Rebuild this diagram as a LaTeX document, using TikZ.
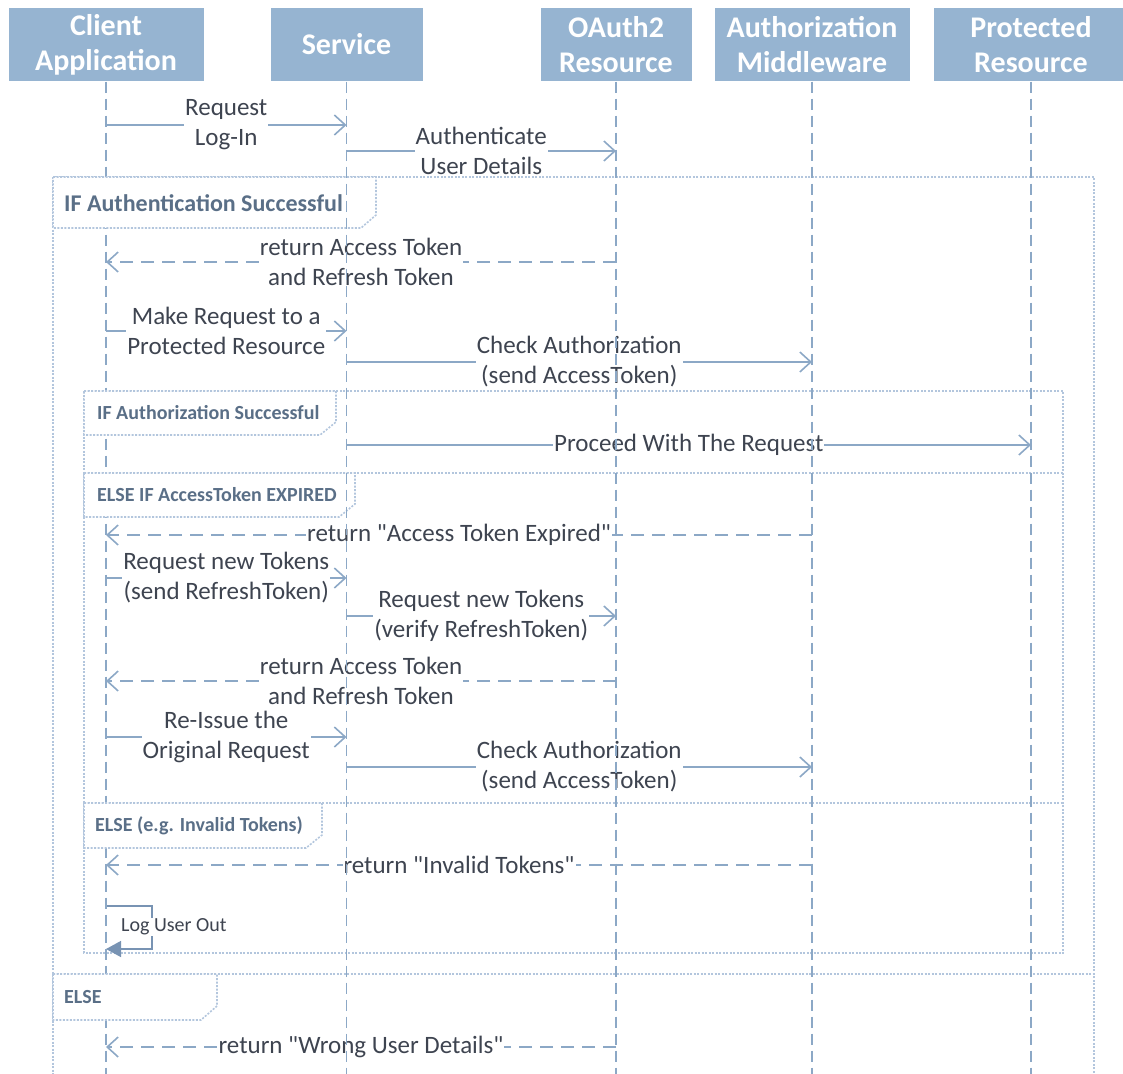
\documentclass[tikz,border=0pt]{standalone}
\usepackage{fontspec}
\setmainfont{Carlito}[Ligatures=TeXOff]
\usetikzlibrary{arrows.meta}
\definecolor{hdr}{HTML}{96B4D1}
\definecolor{ln}{HTML}{8CA8C6}
\definecolor{selfln}{HTML}{7893B3}
\definecolor{txt}{HTML}{3E4450}
\definecolor{frm}{HTML}{B3C6DD}
\definecolor{tabtxt}{HTML}{5A6F87}
\begin{document}
\begin{tikzpicture}[x=1pt,y=-1pt,
  actor/.style={fill=hdr, draw=white, line width=1pt, minimum height=73pt,
    text=white, font=\fontsize{30}{35}\selectfont\bfseries, align=center, inner sep=0pt},
  life/.style={ln, line width=1.8pt, dash pattern=on 11pt off 6pt},
  call/.style={ln, line width=1.6pt,
    -{Straight Barb[length=11pt,width=20pt,line width=1.6pt]}},
  reply/.style={call, dash pattern=on 13pt off 8pt},
  lbl/.style={fill=white, text=txt, font=\fontsize{25}{30}\selectfont,
    align=center, inner sep=1pt},
  frame/.style={frm, line width=1.6pt, dash pattern=on 2pt off 1.5pt},
  tabshape/.style={frame, fill=white},
  tabbig/.style={anchor=west, text=tabtxt, font=\fontsize{24}{28}\selectfont\bfseries, inner sep=0pt},
  tabsmall/.style={anchor=west, text=tabtxt, font=\fontsize{20}{24}\selectfont\bfseries, inner sep=0pt},
  selfmsg/.style={selfln, line width=1.4pt,
    -{Triangle[length=15pt,width=16pt]}},
  selflbl/.style={fill=white, text=txt, font=\fontsize{20}{24}\selectfont, inner sep=1pt}
]
\useasboundingbox (0,0) rectangle (1123,1073);
\clip (0,0) rectangle (1123,1073);

% combined fragments
\draw[frame] (53,177) rectangle (1094,1100);
\draw[frame] (53,974) -- (1094,974);
\draw[frame] (84,391) rectangle (1063,953);
\draw[frame] (84,473) -- (1063,473);
\draw[frame] (84,803) -- (1063,803);

% participants
\node[actor, minimum width=196pt] (cl) at (106,44.5) {Client\\Application};
\node[actor, minimum width=153pt] (sv) at (346.5,44.5) {Service};
\node[actor, minimum width=152pt] (oa) at (616,44.5) {OAuth2\\Resource};
\node[actor, minimum width=196pt] (mw) at (812,44.5) {Authorization\\Middleware};
\node[actor, minimum width=196pt] (pr) at (1031,44.5) {Protected\\Resource};

% messages
\draw[call] (cl |- 0,125) -- node[lbl] {Request\\Log-In} (sv |- 0,125);
\draw[call] (sv |- 0,151) -- node[lbl] {Authenticate\\User Details} (oa |- 0,151);
\draw[reply] (oa |- 0,262) -- node[lbl] {return Access Token\\and Refresh Token} (cl |- 0,262);
\draw[call] (cl |- 0,331) -- node[lbl] {Make Request to a\\Protected Resource} (sv |- 0,331);
\draw[call] (sv |- 0,362) -- node[lbl] {Check Authorization\\(send AccessToken)} (mw |- 0,362);
\draw[call] (sv |- 0,445) -- node[lbl] {Proceed With The Request} (pr |- 0,445);
\draw[reply] (mw |- 0,535) -- node[lbl] {return "Access Token Expired"} (cl |- 0,535);
\draw[call] (cl |- 0,578) -- node[lbl] {Request new Tokens\\(send RefreshToken)} (sv |- 0,578);
\draw[call] (sv |- 0,616) -- node[lbl] {Request new Tokens\\(verify RefreshToken)} (oa |- 0,616);
\draw[reply] (oa |- 0,681) -- node[lbl] {return Access Token\\and Refresh Token} (cl |- 0,681);
\draw[call] (cl |- 0,737) -- node[lbl] {Re-Issue the\\Original Request} (sv |- 0,737);
\draw[call] (sv |- 0,767) -- node[lbl] {Check Authorization\\(send AccessToken)} (mw |- 0,767);
\draw[reply] (mw |- 0,865) -- node[lbl] {return "Invalid Tokens"} (cl |- 0,865);

% self call on the client
\coordinate (lo1) at (152,906);
\coordinate (lo2) at (152,949);
\draw[selfmsg] (cl |- lo1) -- (lo1) -- (lo2) -- (cl |- lo2);
\node[selflbl, anchor=west] (lo) at (120,927) {Log User Out};

\draw[reply] (oa |- 0,1047) -- node[lbl] {return "Wrong User Details"} (cl |- 0,1047);

% client lifeline runs under the fragment tabs
\draw[life] (cl.south) -- (cl |- 0,1090);

% fragment tabs
\draw[tabshape] (53,177) -- (376,177) -- (376,215) -- (361,228) -- (53,228) -- cycle;
\node[tabbig] (g1) at (64,203) {IF Authentication Successful};
\draw[tabshape] (84,391) -- (336,391) -- (336,422) -- (320,435) -- (84,435) -- cycle;
\node[tabsmall] (g2) at (97,413) {IF Authorization Successful};
\draw[tabshape] (84,473) -- (355,473) -- (355,504) -- (339,517) -- (84,517) -- cycle;
\node[tabsmall] (g3) at (97,495) {ELSE IF AccessToken EXPIRED};
\draw[tabshape] (84,803) -- (322,803) -- (322,835) -- (306,848) -- (84,848) -- cycle;
\node[tabsmall] (g4) at (95,826) {ELSE (e.g. Invalid Tokens)};
\draw[tabshape] (53,974) -- (217,974) -- (217,1006) -- (201,1020) -- (53,1020) -- cycle;
\node[tabsmall] (g5) at (64,997) {ELSE};

% remaining lifelines, over labels and tabs
\foreach \p in {sv,oa,mw,pr}
  \draw[life] (\p.south) -- (\p |- 0,1090);
\end{tikzpicture}
\end{document}
